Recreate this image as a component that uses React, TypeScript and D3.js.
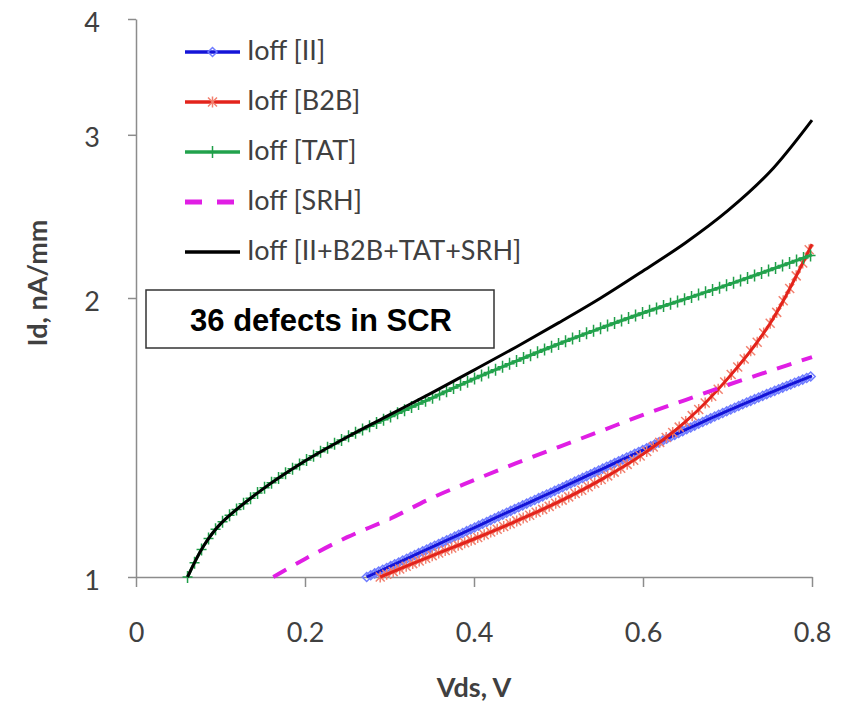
import React, { useEffect, useRef } from "react";
import * as d3 from "d3";

// values (Vds in V, Id in nA/mm, log axis)
const vdsII = [0.273, 0.3, 0.35, 0.4, 0.45, 0.5, 0.55, 0.6, 0.65, 0.7, 0.75, 0.8];
const idII = [1.0, 1.026, 1.077, 1.13, 1.186, 1.244, 1.306, 1.371, 1.441, 1.511, 1.58, 1.648];

const vdsB2B = [0.289, 0.35, 0.4, 0.45, 0.5, 0.55, 0.6, 0.65, 0.7, 0.75, 0.8];
const idB2B = [1.0, 1.054, 1.099, 1.149, 1.205, 1.273, 1.357, 1.47, 1.636, 1.875, 2.287];

const vdsTAT = [0.061, 0.08, 0.1, 0.15, 0.2, 0.25, 0.3, 0.35, 0.4, 0.45, 0.5, 0.55, 0.6, 0.65, 0.7, 0.75, 0.8];
const idTAT = [1.0, 1.08, 1.141, 1.244, 1.334, 1.416, 1.488, 1.56, 1.636, 1.71, 1.784, 1.856, 1.927, 1.995, 2.066, 2.144, 2.226];

const vdsSRH = [0.1625, 0.2, 0.25, 0.3, 0.35, 0.4, 0.45, 0.5, 0.55, 0.6, 0.65, 0.7, 0.75, 0.8];
const idSRH = [1.0, 1.046, 1.104, 1.155, 1.217, 1.272, 1.327, 1.381, 1.437, 1.496, 1.552, 1.611, 1.668, 1.727];

const vdsTotal = [0.061, 0.08, 0.1, 0.15, 0.2, 0.25, 0.3, 0.35, 0.4, 0.45, 0.5, 0.55, 0.6, 0.65, 0.7, 0.75, 0.8];
const idTotal = [1.0, 1.08, 1.141, 1.244, 1.334, 1.416, 1.496, 1.58, 1.672, 1.771, 1.88, 2.0, 2.139, 2.293, 2.483, 2.735, 3.112];

const xTicks = [0, 0.2, 0.4, 0.6, 0.8];
const yTicks = [1, 2, 3, 4];

const seriesNames = ["Ioff [II]", "Ioff [B2B]", "Ioff [TAT]", "Ioff [SRH]", "Ioff [II+B2B+TAT+SRH]"];
const seriesColors = ["#1414d8", "#e3231b", "#22a24c", "#e01ee4", "#000000"];
const markerKinds = ["diamond", "star", "plus", "none", "none"];

const markerPaths: Record<string, string> = {
  diamond: "M0,-4.5L4.5,0L0,4.5L-4.5,0Z",
  star: "M-4.5,-4.5L4.5,4.5M-4.5,4.5L4.5,-4.5M0,-5.5L0,5.5",
  plus: "M-5,0L5,0M0,-6L0,6",
};
const markerStroke: Record<string, string> = {
  diamond: "#6f7cff",
  star: "#f2806f",
  plus: "#1f9e48",
};
const markerStep: Record<string, number> = { diamond: 4, star: 6.5, plus: 7 };

function pointAtX(node: SVGPathElement, px: number) {
  let lo = 0;
  let hi = node.getTotalLength();
  for (let i = 0; i < 28; i++) {
    const mid = (lo + hi) / 2;
    if (node.getPointAtLength(mid).x < px) lo = mid;
    else hi = mid;
  }
  return node.getPointAtLength((lo + hi) / 2);
}

export default function App() {
  const ref = useRef<SVGSVGElement>(null);

  useEffect(() => {
    const svg = d3.select(ref.current);
    svg.selectAll("*").remove();

    const x = d3.scaleLinear().domain([0, 0.8]).range([136, 812]);
    const y = d3.scaleLog().base(4).domain([1, 4]).range([577, 19]);
    const font = "Lato, 'DejaVu Sans', sans-serif";
    const axisGrey = "#8c8c8c";

    // axes
    const gx = svg
      .append("g")
      .attr("transform", "translate(0,577)")
      .call(
        d3.axisBottom(x).tickValues(xTicks).tickSize(10).tickSizeOuter(0).tickPadding(36)
          .tickFormat((d) => (d === 0 ? "0" : d3.format(".1f")(d as number)))
      );
    const gy = svg
      .append("g")
      .attr("transform", "translate(136,0)")
      .call(d3.axisLeft(y).tickValues(yTicks).tickSize(8).tickSizeOuter(0).tickPadding(28).tickFormat(d3.format("d")));
    [gx, gy].forEach((g) => {
      g.select(".domain").attr("stroke", axisGrey).attr("stroke-width", 1.5);
      g.selectAll(".tick line").attr("stroke", axisGrey).attr("stroke-width", 1.5);
      g.selectAll(".tick text").attr("fill", "#404040").style("font-family", font).style("font-size", "27px");
    });
    gy.selectAll(".tick text").attr("dy", "0.45em");

    // axis titles
    svg.append("text")
      .attr("x", 474).attr("y", 697)
      .attr("text-anchor", "middle")
      .style("font-family", font).style("font-size", "27px").style("font-weight", "bold")
      .attr("fill", "#404040")
      .text("Vds, V");
    svg.append("text")
      .attr("transform", "translate(47,283) rotate(-90)")
      .attr("text-anchor", "middle")
      .style("font-family", font).style("font-size", "27px").style("font-weight", "bold")
      .attr("fill", "#404040")
      .text("Id, nA/mm");

    // series: markers underneath, line on top
    const allX = [vdsII, vdsB2B, vdsTAT, vdsSRH, vdsTotal];
    const allY = [idII, idB2B, idTAT, idSRH, idTotal];
    const line = d3.line<[number, number]>()
      .x((d) => x(d[0]))
      .y((d) => y(d[1]))
      .curve(d3.curveCatmullRom.alpha(0.5));

    allX.forEach((xs, i) => {
      const pts = xs.map((v, j) => [v, allY[i][j]] as [number, number]);
      const g = svg.append("g");
      const markG = g.append("g");
      const path = g.append("path")
        .attr("d", line(pts))
        .attr("fill", "none")
        .attr("stroke", seriesColors[i])
        .attr("stroke-width", i === 3 ? 4 : 3)
        .attr("stroke-dasharray", i === 3 ? "15 11" : null);

      const kind = markerKinds[i];
      if (kind !== "none") {
        const node = path.node() as SVGPathElement;
        const x0 = x(xs[0]);
        const x1 = x(xs[xs.length - 1]);
        const marks = d3.range(x0, x1 + 0.1, markerStep[kind]).map((px) => pointAtX(node, px));
        markG
          .selectAll("path")
          .data(marks)
          .join("path")
          .attr("transform", (p) => `translate(${p.x},${p.y})`)
          .attr("d", markerPaths[kind])
          .attr("fill", "none")
          .attr("stroke", markerStroke[kind])
          .attr("stroke-width", 1.5);
      }
    });

    // legend
    const legend = svg.append("g");
    seriesNames.forEach((name, i) => {
      const ly = 52 + i * 50;
      legend.append("line")
        .attr("x1", 185).attr("x2", 240).attr("y1", ly).attr("y2", ly)
        .attr("stroke", seriesColors[i])
        .attr("stroke-width", i === 3 ? 5 : 3.5)
        .attr("stroke-dasharray", i === 3 ? "17 15" : null);
      const kind = markerKinds[i];
      if (kind !== "none") {
        legend.append("path")
          .attr("transform", `translate(212.5,${ly})`)
          .attr("d", markerPaths[kind])
          .attr("fill", "none")
          .attr("stroke", markerStroke[kind])
          .attr("stroke-width", 1.5);
      }
      legend.append("text")
        .attr("x", 247).attr("y", ly + 8)
        .style("font-family", font).style("font-size", "27px")
        .attr("fill", "#404040")
        .text(name);
    });

    // annotation box
    svg.append("rect")
      .attr("x", 146).attr("y", 290).attr("width", 348).attr("height", 58)
      .attr("fill", "#fff").attr("stroke", "#333").attr("stroke-width", 1.5);
    svg.append("text")
      .attr("x", 321).attr("y", 331)
      .attr("text-anchor", "middle")
      .style("font-family", "'Liberation Sans', Arial, sans-serif")
      .style("font-size", "31px").style("font-weight", "bold")
      .attr("fill", "#000")
      .text("36 defects in SCR");
  }, []);

  return (
    <svg
      ref={ref}
      width={843}
      height={702}
      style={{ position: "absolute", left: 0, top: 0, background: "#fff" }}
    />
  );
}
